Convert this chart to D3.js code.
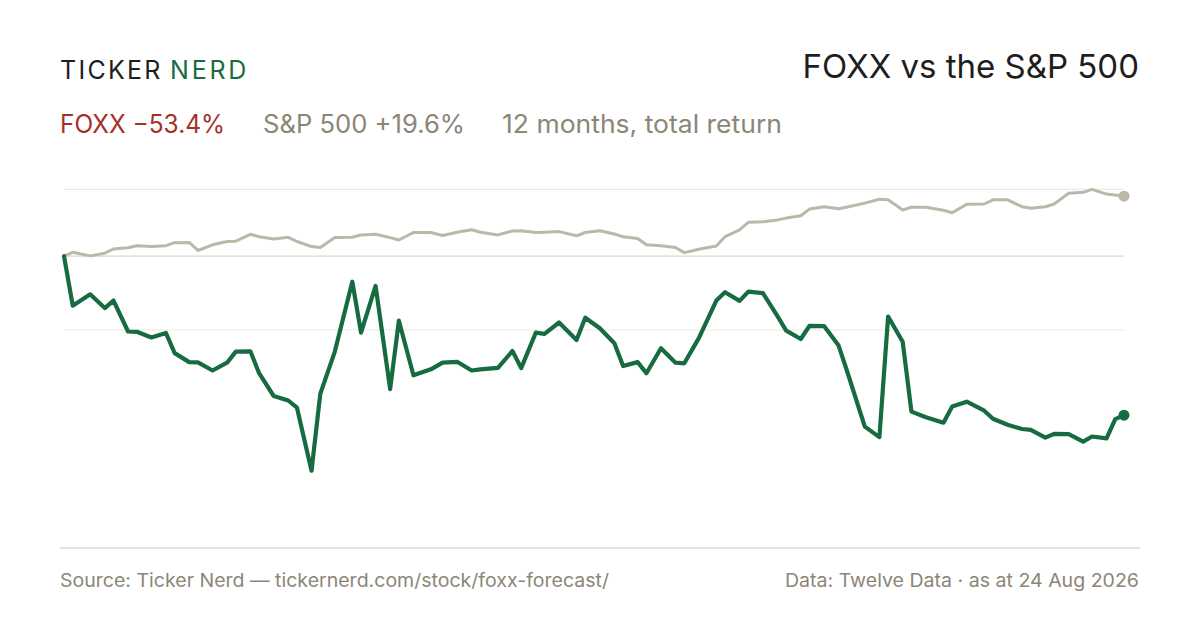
<!DOCTYPE html>
<html>
<head>
<meta charset="utf-8">
<script src="https://cdn.jsdelivr.net/npm/d3@7/dist/d3.min.js"></script>
<style>
  html, body { margin: 0; padding: 0; background: #ffffff; }
  svg { display: block; font-family: Inter, "Noto Sans", sans-serif; }
</style>
</head>
<body>
<svg id="chart" width="1200" height="630"></svg>
<script>
// Dates (every third trading day) and cumulative total return, %
const dates = [
  "2025-08-25","2025-08-28","2025-09-03","2025-09-08","2025-09-11","2025-09-16","2025-09-19","2025-09-24","2025-09-29","2025-10-02",
  "2025-10-07","2025-10-10","2025-10-15","2025-10-20","2025-10-23","2025-10-28","2025-10-31","2025-11-05","2025-11-10","2025-11-13",
  "2025-11-18","2025-11-21","2025-11-26","2025-12-02","2025-12-05","2025-12-10","2025-12-15","2025-12-18","2025-12-23","2025-12-29",
  "2026-01-02","2026-01-07","2026-01-12","2026-01-15","2026-01-21","2026-01-26","2026-01-29","2026-02-03","2026-02-06","2026-02-11",
  "2026-02-17","2026-02-20","2026-02-25","2026-03-02","2026-03-05","2026-03-10","2026-03-13","2026-03-18","2026-03-23","2026-03-26",
  "2026-03-31","2026-04-06","2026-04-09","2026-04-14","2026-04-17","2026-04-22","2026-04-27","2026-04-30","2026-05-05","2026-05-08",
  "2026-05-13","2026-05-18","2026-05-21","2026-05-27","2026-06-01","2026-06-04","2026-06-09","2026-06-12","2026-06-17","2026-06-23",
  "2026-06-26","2026-07-01","2026-07-07","2026-07-10","2026-07-15","2026-07-20","2026-07-23","2026-07-28","2026-07-31","2026-08-05",
  "2026-08-10","2026-08-13","2026-08-18","2026-08-21","2026-08-24"
];
const foxx = [
  0, -16.5, -12.7, -17.3, -14.8, -25.1, -25.2, -27.1, -25.6, -32.3,
  -35.3, -35.4, -38.1, -35.5, -31.8, -31.7, -39.0, -46.6, -48.1, -50.5,
  -71.5, -45.9, -31.8, -8.5, -25.5, -9.9, -44.3, -21.5, -39.7, -37.7,
  -35.5, -35.2, -38.1, -37.7, -37.2, -31.6, -37.3, -25.5, -25.9, -22.1,
  -27.9, -20.5, -24.0, -29.0, -36.6, -35.3, -39.0, -30.7, -35.5, -35.7,
  -27.3, -14.8, -12.0, -14.9, -11.8, -12.3, -20.0, -24.8, -27.6, -23.2,
  -23.3, -29.8, -38.6, -56.8, -60.3, -20.1, -28.5, -51.8, -53.7, -55.5,
  -50.1, -48.5, -51.5, -54.2, -56.2, -57.6, -57.9, -60.5, -59.2, -59.3,
  -61.8, -60.1, -60.7, -54.3, -53.0
];
const spx = [
  0, 1.3, 0.1, 1.0, 2.4, 2.8, 3.5, 3.2, 3.5, 4.5,
  4.6, 1.9, 3.8, 4.9, 5.0, 7.3, 6.5, 5.7, 6.3, 4.9,
  3.2, 2.9, 6.2, 6.3, 7.1, 7.3, 6.2, 5.4, 7.9, 7.9,
  6.9, 8.0, 8.8, 8.0, 7.1, 8.4, 8.5, 7.9, 8.0, 8.2,
  6.8, 7.9, 8.5, 7.4, 6.5, 5.9, 3.8, 3.5, 2.9, 1.2,
  2.3, 3.4, 6.5, 8.8, 11.3, 11.5, 12.1, 12.7, 13.5, 15.7,
  16.5, 15.8, 16.4, 17.7, 19.0, 18.8, 15.4, 16.3, 16.3, 15.3,
  14.5, 17.3, 17.4, 18.8, 18.8, 16.5, 16.0, 16.5, 17.4, 21.0,
  21.3, 22.3, 20.7, 20.4, 20.0
];
const brand = ["TICKER", "NERD"];
const title = "FOXX vs the S&P 500";
const subtitle = [
  { text: "FOXX \u221253.4%", color: "#a33129" },
  { text: "S&P 500 +19.6%", color: "#8c8677" },
  { text: "12 months, total return", color: "#8c8677" }
];
const footLeft = "Source: Ticker Nerd \u2014 tickernerd.com/stock/foxx-forecast/";
const footRight = "Data: Twelve Data \u00b7 as at 24 Aug 2026";

const parse = d3.timeParse("%Y-%m-%d");
const data = dates.map((d, i) => ({ date: parse(d), foxx: foxx[i], spx: spx[i] }));

const svg = d3.select("#chart");

// Header
svg.append("text").attr("x", 60).attr("y", 78.5)
  .attr("font-size", 25).attr("letter-spacing", 2.6)
  .attr("fill", "#1e1e1e").attr("textLength", 103).attr("lengthAdjust", "spacing")
  .text(brand[0]);
svg.append("text").attr("x", 170).attr("y", 78.5)
  .attr("font-size", 25).attr("letter-spacing", 2.6)
  .attr("fill", "#1a6b42").attr("textLength", 79).attr("lengthAdjust", "spacing")
  .text(brand[1]);

svg.append("text").attr("x", 1139).attr("y", 78).attr("text-anchor", "end")
  .attr("font-size", 33).attr("fill", "#1e1e1e").text(title);

const subX = [60, 263, 502];
const subW = [165, 202, 280];
subtitle.forEach((s, i) => {
  svg.append("text").attr("x", subX[i]).attr("y", 133).attr("font-size", 25)
    .attr("fill", s.color).attr("textLength", subW[i]).attr("lengthAdjust", "spacingAndGlyphs")
    .text(s.text);
});

// Scales
const x = d3.scaleTime()
  .domain(d3.extent(data, d => d.date))
  .range([64, 1124]);
const yMin = d3.min(data, d => Math.min(d.foxx, d.spx));
const yMax = d3.max(data, d => Math.max(d.foxx, d.spx));
const y = d3.scaleLinear().domain([yMin, yMax]).range([470.7, 189.3]);

// Gridlines
const grid = [yMax, (yMax + yMin) / 2];
svg.append("g").selectAll("line").data(grid).join("line")
  .attr("x1", 64).attr("x2", 1124)
  .attr("y1", d => y(d)).attr("y2", d => y(d))
  .attr("stroke", "#ece9e2").attr("stroke-width", 1.2);
svg.append("line")
  .attr("x1", 64).attr("x2", 1124)
  .attr("y1", y(0)).attr("y2", y(0))
  .attr("stroke", "#dcd7c6").attr("stroke-width", 1.2);

// Bottom axis line
svg.append("line").attr("x1", 60).attr("x2", 1140).attr("y1", 548).attr("y2", 548)
  .attr("stroke", "#dedad0").attr("stroke-width", 1.6);

// Lines
const lineS = d3.line().x(d => x(d.date)).y(d => y(d.spx));
const lineF = d3.line().x(d => x(d.date)).y(d => y(d.foxx));

svg.append("path").datum(data).attr("d", lineS)
  .attr("fill", "none").attr("stroke", "#bdb6aa").attr("stroke-width", 3)
  .attr("stroke-linejoin", "round").attr("stroke-linecap", "round");
svg.append("path").datum(data).attr("d", lineF)
  .attr("fill", "none").attr("stroke", "#176b41").attr("stroke-width", 4.2)
  .attr("stroke-linejoin", "round").attr("stroke-linecap", "round");

const last = data[data.length - 1];
svg.append("circle").attr("cx", x(last.date)).attr("cy", y(last.spx)).attr("r", 5.5).attr("fill", "#bdb6aa");
svg.append("circle").attr("cx", x(last.date)).attr("cy", y(last.foxx)).attr("r", 5.5).attr("fill", "#176b41");

// Footer
svg.append("text").attr("x", 60).attr("y", 587).attr("font-size", 18.5)
  .attr("fill", "#8c8677").attr("textLength", 549).attr("lengthAdjust", "spacingAndGlyphs").text(footLeft);
svg.append("text").attr("x", 1139).attr("y", 587).attr("font-size", 18.5)
  .attr("text-anchor", "end").attr("fill", "#8c8677").attr("textLength", 354).attr("lengthAdjust", "spacingAndGlyphs").text(footRight);
</script>
</body>
</html>
